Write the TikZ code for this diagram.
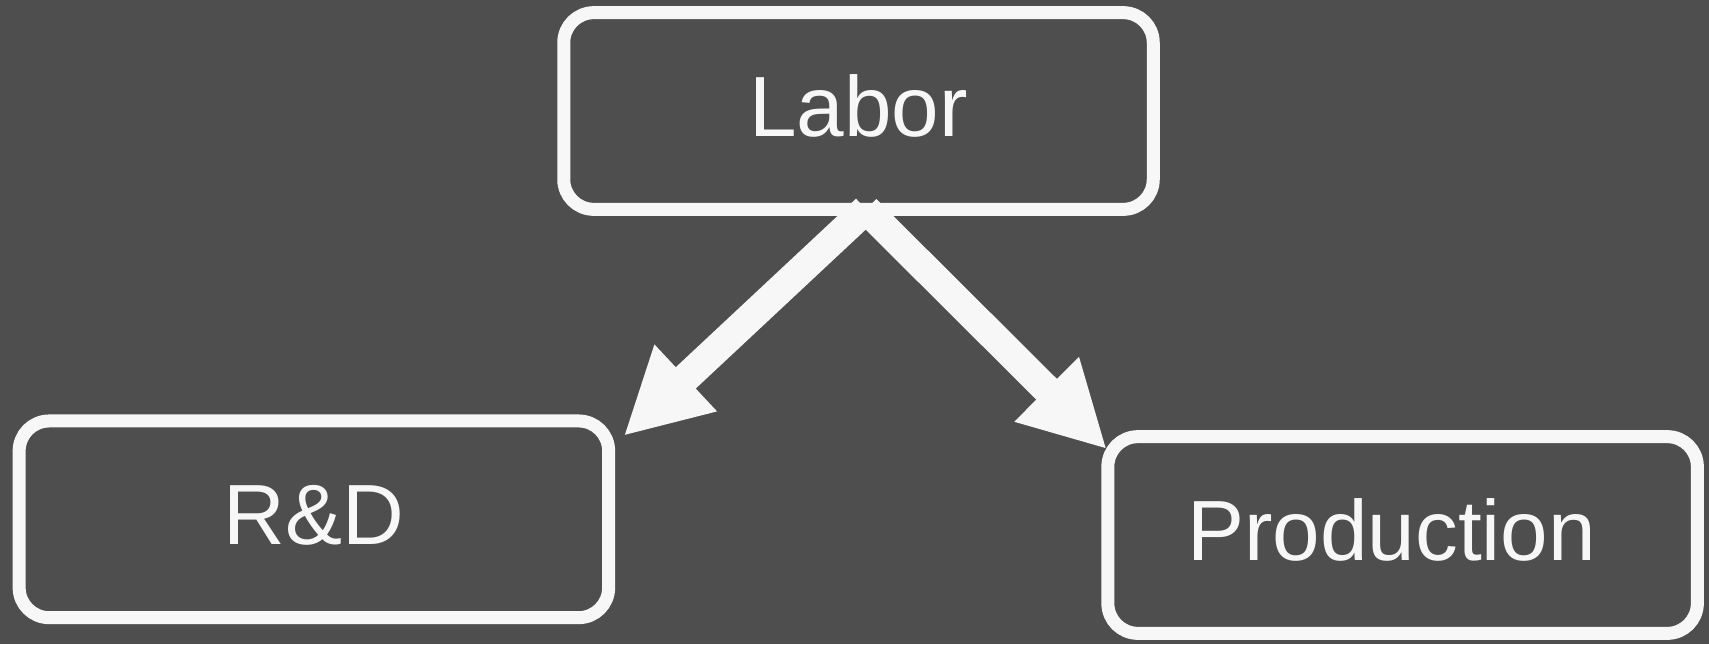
\documentclass[tikz,border=0pt]{standalone}
\usepackage{fontspec}
\setmainfont{Liberation Sans}
\usetikzlibrary{arrows.meta,calc}
\definecolor{canvas}{HTML}{4E4E4E}
\definecolor{ink}{HTML}{F7F7F7}
\begin{document}
\begin{tikzpicture}[x=0.5pt,y=-0.5pt,
  box/.style={draw=ink, line width=6.5pt, rounded corners=15pt,
    minimum width=294.75pt, minimum height=98.35pt,
    inner sep=0pt, outer sep=0pt, text=ink,
    font=\fontsize{42.75}{50}\selectfont,
    text height=30.5pt, text depth=5.5pt},
  flow/.style={draw=ink, line width=14.6pt,
    -{Triangle[length=42.5pt,width=42.5pt]}}]
  % background
  \fill[canvas] (0,0) rectangle (1709,644);
  \useasboundingbox (0,0) rectangle (1709,644);

  % boxes
  \node[box] (labor) at (858.5,111) {Labor};
  \node[box] (rd)    at (313.9,519.3) {R\&D};
  \node[box] (prod)  at (1402.6,535) {Production\kern11pt};

  % connector ends
  \coordinate (src)   at ($(labor.south)+(7.5,0)$);
  \coordinate (rdtip) at ($(rd.north east)+(15,15)$);
  \coordinate (prtip) at ($(prod.north west)+(-1,12.6)$);

  % flows
  \draw[flow] (src) -- (rdtip);
  \draw[flow] (src) -- (prtip);
\end{tikzpicture}
\end{document}
